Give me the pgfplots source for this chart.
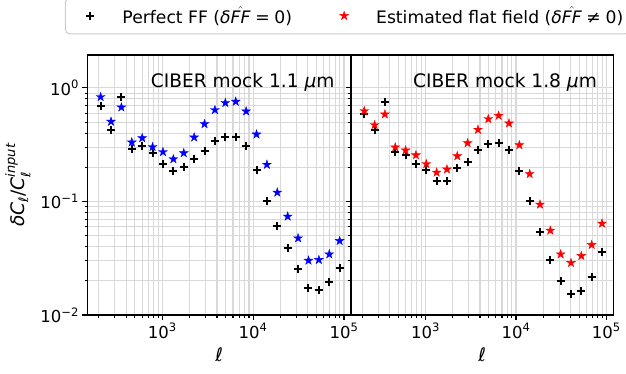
\documentclass[border=0pt]{standalone}
\usepackage{fontspec}
\setmainfont{DejaVu Sans}
\usepackage{amsmath}
\usepackage{pgfplots}
\usepackage{pgfplotstable}
\pgfplotsset{compat=1.18}
\usetikzlibrary{plotmarks}

% filled five-pointed star marker
\pgfdeclareplotmark{fstar}{%
  \pgfpathmoveto{\pgfpointpolar{90}{\pgfplotmarksize}}%
  \pgfpathlineto{\pgfpointpolar{126}{0.382\pgfplotmarksize}}%
  \pgfpathlineto{\pgfpointpolar{162}{\pgfplotmarksize}}%
  \pgfpathlineto{\pgfpointpolar{198}{0.382\pgfplotmarksize}}%
  \pgfpathlineto{\pgfpointpolar{234}{\pgfplotmarksize}}%
  \pgfpathlineto{\pgfpointpolar{270}{0.382\pgfplotmarksize}}%
  \pgfpathlineto{\pgfpointpolar{306}{\pgfplotmarksize}}%
  \pgfpathlineto{\pgfpointpolar{342}{0.382\pgfplotmarksize}}%
  \pgfpathlineto{\pgfpointpolar{18}{\pgfplotmarksize}}%
  \pgfpathlineto{\pgfpointpolar{54}{0.382\pgfplotmarksize}}%
  \pgfpathclose
  \pgfusepathqfillstroke
}

% ell bin centres; residual power for perfect and estimated flat fields
\pgfplotstableread{
ell    perfA   estA    perfB   estB
209.7  0.698   0.833   0.594   0.627
272.9  0.423   0.505   0.429   0.472
355.0  0.833   0.675   0.758   0.586
461.9  0.292   0.332   0.271   0.300
601.2  0.306   0.362   0.256   0.282
782.3  0.267   0.302   0.215   0.256
1018   0.215   0.273   0.190   0.214
1325   0.184   0.236   0.153   0.180
1724   0.200   0.267   0.153   0.192
2243   0.238   0.367   0.197   0.251
2919   0.276   0.481   0.221   0.327
3799   0.338   0.640   0.286   0.429
4943   0.367   0.738   0.321   0.533
6433   0.367   0.758   0.327   0.570
8371   0.306   0.623   0.286   0.488
10894  0.188   0.390   0.187   0.314
14173  0.100   0.211   0.101   0.175
18445  0.0602  0.120   0.0533  0.0941
24003  0.0388  0.0738  0.0308  0.0555
31232  0.0256  0.0475  0.0200  0.0343
40644  0.0172  0.0302  0.0153  0.0288
52891  0.0166  0.0306  0.0163  0.0332
68834  0.0194  0.0343  0.0214  0.0415
89570  0.0258  0.0450  0.0357  0.0640
}\cldata

\newcommand{\ticksize}{\fontsize{16.5}{18}\selectfont}
\newcommand{\labsize}{\fontsize{18.6}{22}\selectfont}
\newcommand{\legsize}{\fontsize{17.2}{20}\selectfont}

\pgfplotsset{
  perfmarks/.style={only marks, mark=+, mark size=4pt, black, line width=2pt},
  estmarks/.style={only marks, mark=fstar, mark size=4.6pt, draw=#1, fill=#1, line width=0.4pt},
}

\begin{document}
\begin{tikzpicture}
\begin{axis}[
  at={(87.3pt,58pt)}, anchor=south west,
  scale only axis, width=263.7pt, height=260pt,
  xmode=log, ymode=log,
  xmin=149.6, xmax=119400, ymin=0.01, ymax=1.95,
  xtick={1000,10000,100000},
  xticklabels={10\textsuperscript{3},10\textsuperscript{4},10\textsuperscript{5}},
  minor xtick={200,300,400,500,600,700,800,900,2000,3000,4000,5000,6000,7000,8000,9000,20000,30000,40000,50000,60000,70000,80000,90000},
  ytick={0.01,0.1,1},
  yticklabels={10\textsuperscript{−2},10\textsuperscript{−1},10\textsuperscript{0}},
  minor ytick={0.02,0.03,0.04,0.05,0.06,0.07,0.08,0.09,0.2,0.3,0.4,0.5,0.6,0.7,0.8,0.9},
  grid=both,
  major grid style={draw=black!15, line width=1.1pt},
  minor grid style={draw=black!15, line width=1.1pt},
  axis line style={line width=1.1pt},
  tick pos=left, tick align=outside,
  major tick length=4.9pt, minor tick length=2.8pt,
  every tick/.style={black, line width=1.1pt},
  tick label style={font=\ticksize},
  xlabel={\textit{ℓ}},
  xlabel style={font=\labsize, at={(rel axis cs:0.5,-0.154)}, anchor=center},
  ylabel={$\text{\itshape δC}_{\text{\itshape ℓ}}\text{/}\text{\itshape C}_{\text{\itshape ℓ}}^{\text{\itshape input}}$},
  ylabel style={font=\labsize, at={(rel axis cs:-0.263,0.5)}, anchor=center},
]
  \addplot[perfmarks] table[x=ell, y=perfA] {\cldata};
  \addplot[estmarks=blue] table[x=ell, y=estA] {\cldata};
  \node[anchor=east, font=\labsize] at (rel axis cs:0.951,0.896) {CIBER mock 1.1 \textit{μ}m};
\end{axis}
\begin{axis}[
  at={(351pt,58pt)}, anchor=south west,
  scale only axis, width=262.3pt, height=260pt,
  xmode=log, ymode=log,
  xmin=149.6, xmax=119400, ymin=0.01, ymax=1.95,
  xtick={1000,10000,100000},
  xticklabels={10\textsuperscript{3},10\textsuperscript{4},10\textsuperscript{5}},
  minor xtick={200,300,400,500,600,700,800,900,2000,3000,4000,5000,6000,7000,8000,9000,20000,30000,40000,50000,60000,70000,80000,90000},
  ytick={0.01,0.1,1},
  yticklabels={},
  minor ytick={0.02,0.03,0.04,0.05,0.06,0.07,0.08,0.09,0.2,0.3,0.4,0.5,0.6,0.7,0.8,0.9},
  grid=both,
  major grid style={draw=black!15, line width=1.1pt},
  minor grid style={draw=black!15, line width=1.1pt},
  axis line style={line width=1.1pt},
  tick pos=left, tick align=outside,
  major tick length=4.9pt, minor tick length=2.8pt,
  every tick/.style={black, line width=1.1pt},
  tick label style={font=\ticksize},
  xlabel={\textit{ℓ}},
  xlabel style={font=\labsize, at={(rel axis cs:0.5,-0.154)}, anchor=center},
  legend image code/.code={
    \path[draw=none, fill=none] (0pt,-6pt) rectangle (42pt,6pt);
    \draw[#1] plot coordinates {(21pt,0pt)};
  },
  legend columns=2,
  legend style={at={(rel axis cs:-1.0904,1.0796)}, anchor=south west,
    draw=black!20, line width=1pt, rounded corners=4pt, font=\legsize,
    inner xsep=4pt, inner ysep=2pt,
    nodes={inner sep=2pt, text height=22pt, text depth=6pt},
    /tikz/every odd column/.append style={column sep=9pt},
    /tikz/every even column/.append style={column sep=29pt}},
]
  \addplot[perfmarks] table[x=ell, y=perfB] {\cldata};
  \addlegendentry{Perfect FF ($\text{\itshape δ}\hat{\text{\itshape FF}}\mathrel{\text{=}}\text{0}$)}
  \addplot[estmarks=red] table[x=ell, y=estB] {\cldata};
  \addlegendentry{Estimated flat field ($\text{\itshape δ}\hat{\text{\itshape FF}}\mathrel{\text{≠}}\text{0}$)}
  \node[anchor=east, font=\labsize] at (rel axis cs:0.951,0.896) {CIBER mock 1.8 \textit{μ}m};
\end{axis}
\pgfresetboundingbox
\path (0pt,0pt) rectangle (626pt,373pt);
\end{tikzpicture}
\end{document}
